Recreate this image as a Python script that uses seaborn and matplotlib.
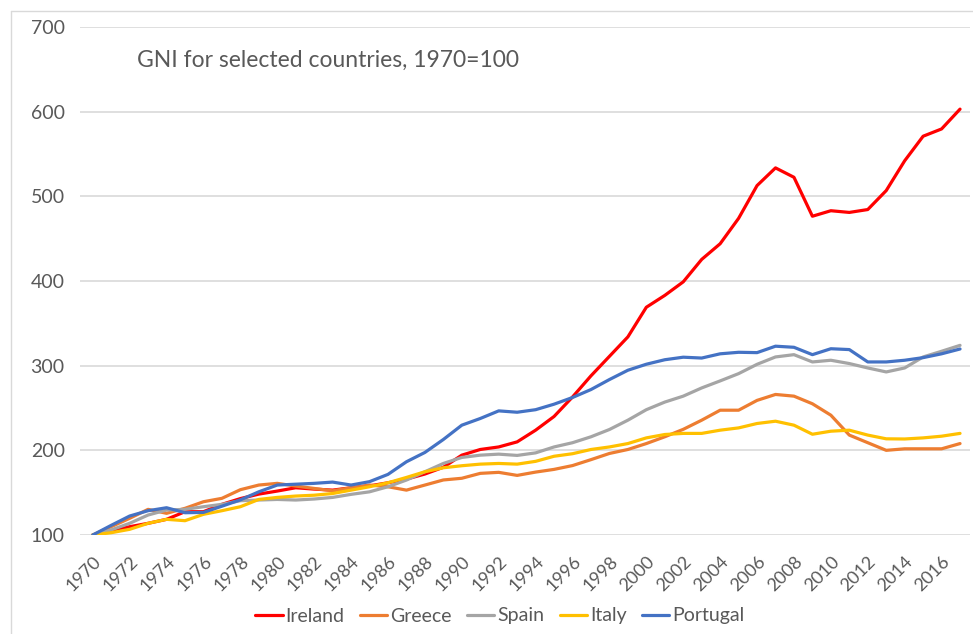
import numpy as np
import pandas as pd
import matplotlib
matplotlib.use("Agg")
import matplotlib.pyplot as plt
import seaborn as sns

years = list(range(1970, 2018))

ireland = [100, 104.7, 109.8, 113.8, 118.5, 127.5, 127.5, 136.2, 143,
           148.3, 151.9, 155.8, 154.2, 153, 155.8, 158, 161.7,
           166, 172, 180, 194.3, 201, 204, 210, 223.8, 240, 263, 288, 311, 334, 369, 383,
           399, 425.5, 444, 474, 512.7, 533.6, 522.5, 476.5, 483, 481, 484.4, 506.8, 542, 571, 579.6, 603]
greece = [100, 109.8, 119.7, 130.3, 125.6, 131.5, 139.3, 143.3, 153.5,
          159, 161, 157.8, 155, 152.2, 155.8, 159, 157,
          153, 159, 165, 167, 172.8, 174, 170.4, 174.3, 177.5, 182, 189, 196.3, 201, 208, 216,
          224.8, 235.6, 247.4, 247.4, 259, 266, 264, 255, 241.5, 218, 209, 200, 201.8, 201.8, 201.8, 208]
spain = [100, 106, 113.8, 123.6, 129.5, 130.3, 133.4, 136.2, 140.5,
         141.3, 142, 141.3, 142.5, 144.4, 148, 151, 157,
         164.9, 174.7, 184.5, 191.6, 194.3, 195.5, 194, 197, 204, 209, 216, 224.6, 235.6, 248, 257,
         264, 273.7, 282, 290.6, 301.6, 310.3, 313, 304.4, 306.4, 302.5, 297.3, 292.6, 297.3, 310.3, 317, 324]
italy = [100, 102.7, 106.7, 113.8, 118.5, 116.9, 124.4, 128.7, 133.4,
         142, 144.4, 146, 147, 149, 153, 157, 161.7,
         168, 174.7, 179.4, 181.8, 183.7, 184.5, 183.7, 187, 193, 196, 201, 204, 208, 214.7, 218.7,
         220, 220, 223.8, 226.5, 231.7, 234.4, 229.7, 219, 222.6, 223.8, 218, 213.6, 213.4, 214.7, 216.7, 220]
portugal = [100, 111.4, 122.4, 128.7, 132.2, 126.3, 126.7, 134, 141.5,
            151, 159, 160, 161, 162.5, 159, 163, 171.6,
            186.5, 197.5, 212.8, 229.7, 237.6, 246.6, 245, 248, 254.5, 262.4, 271.8, 283.6, 294.6, 301.7, 307,
            310, 309, 314, 315.8, 315.4, 323, 321.7, 313, 320, 319, 304.4, 304.4, 306.4, 309.5, 314, 319.7]

countries = ["Ireland", "Greece", "Spain", "Italy", "Portugal"]
colors = ["#FF0000", "#ED7D31", "#A5A5A5", "#FFC000", "#4472C4"]
xticks = list(range(1970, 2017, 2))
yticks = [100, 200, 300, 400, 500, 600, 700]

frames = []
for name, vals in zip(countries, [ireland, greece, spain, italy, portugal]):
    frames.append(pd.DataFrame({"Year": years, "GNI": vals, "Country": name}))
df = pd.concat(frames, ignore_index=True)

sns.set_style("white")
plt.rcParams['font.family'] = ['Lato', 'DejaVu Sans']
text_col = "#595959"

fig = plt.figure(figsize=(9.73, 6.34), dpi=100)
ax = fig.add_axes([80 / 973, 1 - 535 / 634, 890 / 973, 508 / 634])

sns.lineplot(data=df, x="Year", y="GNI", hue="Country", hue_order=countries,
             palette=colors, linewidth=2.3, ax=ax, legend=False)

ax.set_xlim(1969.31, 2017.54)
ax.set_ylim(100, 700)
ax.set_yticks(yticks)
ax.set_xticks(xticks)
ax.set_xticklabels([str(x) for x in xticks], rotation=45, ha="right",
                   rotation_mode="anchor", fontsize=13, color=text_col)
ax.set_yticklabels([str(y) for y in yticks], fontsize=14, color=text_col)
ax.tick_params(axis="both", length=0)
ax.tick_params(axis="x", pad=13)
ax.tick_params(axis="y", pad=11)
ax.yaxis.grid(True, color="#D9D9D9", linewidth=1.2)
ax.set_axisbelow(True)
for s in ax.spines.values():
    s.set_visible(False)
ax.set_xlabel("")
ax.set_ylabel("")

fig.text(137 / 973, 1 - 60 / 634, "GNI for selected countries, 1970=100",
         fontsize=16.5, color=text_col, va="center")

handles = [plt.Line2D([], [], color=c, linewidth=2.3) for c in colors]
fig.legend(handles, countries, loc="center", bbox_to_anchor=(500 / 973, 1 - 616 / 634),
           ncol=5, frameon=False, fontsize=14, handlelength=1.4, handletextpad=0.15,
           columnspacing=0.8, labelcolor=text_col)

# chart area border
fig.add_artist(plt.Line2D([11 / 973, 11 / 973], [0, 1 - 11 / 634], color="#D9D9D9",
                          linewidth=1, transform=fig.transFigure))
fig.add_artist(plt.Line2D([11 / 973, 1], [1 - 11 / 634, 1 - 11 / 634], color="#D9D9D9",
                          linewidth=1, transform=fig.transFigure))

fig.savefig("out.png", dpi=100)
